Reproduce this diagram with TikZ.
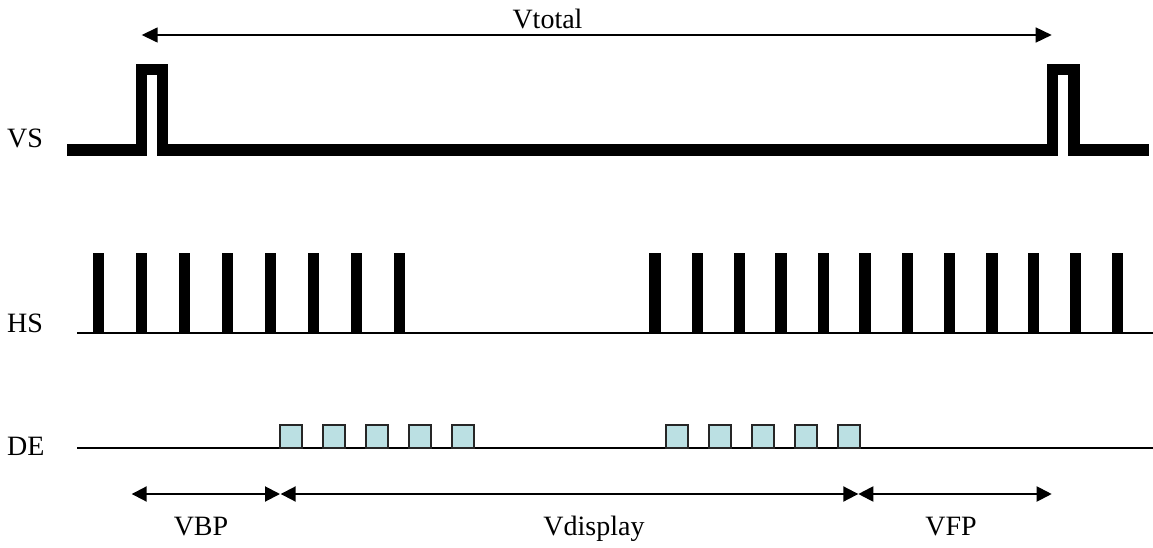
\documentclass[tikz,border=0pt]{standalone}
\usepackage{fontspec}
\setmainfont{Liberation Serif}
\usetikzlibrary{arrows.meta}
\definecolor{depulse}{HTML}{BBE0E3}
\tikzset{
  lbl/.style={anchor=base, inner sep=0pt, font=\fontsize{28}{31}\selectfont},
  vsline/.style={line width=11.5pt, line join=miter, line cap=butt},
  hsbar/.style={fill=black},
  baseline/.style={line width=2pt},
  debox/.style={fill=depulse, draw=black!85, line width=2pt},
  dimarrow/.style={line width=2pt, {Triangle[length=15pt,width=15pt]}-{Triangle[length=15pt,width=15pt]}},
  totarrow/.style={line width=1.5pt, {Triangle[length=16pt,width=15pt]}-{Triangle[length=16pt,width=15pt]}}
}
\begin{document}
\begin{tikzpicture}[x=1pt,y=-1pt]
\useasboundingbox (0,0) rectangle (1153,548);
% labels on the left
\node[lbl, anchor=base west] (vs) at (7,148) {VS};
\node[lbl, anchor=base west] (hs) at (7,332) {HS};
\node[lbl, anchor=base west] (de) at (7,455) {DE};
% VS signal
\draw[vsline] (67,150) -- (141.7,150) -- (141.7,69.5) -- (162.5,69.5) -- (162.5,150)
  -- (1052.5,150) -- (1052.5,69.5) -- (1073.8,69.5) -- (1073.8,150) -- (1149,150);
% Vtotal
\coordinate (vtl) at (141.7,35);
\coordinate (vtr) at (1051.7,35);
\draw[totarrow] (vtl) -- (vtr);
\node[lbl] (vtotal) at (547.5,29) {Vtotal};
% HS signal
\draw[baseline] (77,333.3) -- (1153,333.3);
\foreach \x [count=\i] in {98.5,141.5,184.5,227.5,270.5,313.5,356.5,399.5,
  655.2,697.3,739.3,781.2,823.3,865.2,907.5,949.5,991.7,1033.5,1075.5,1117.5}{
  \fill[hsbar] (\x-5.8,252.7) rectangle (\x+5.8,333.3);
}
% DE signal
\draw[baseline] (77,448.3) -- (1153,448.3);
\foreach \x [count=\i] in {280,323,366,409,452,666,708.5,752,794.5,837.5}{
  \draw[debox] (\x,425) rectangle (\x+22.3,448.3);
}
% dimension arrows
\coordinate (a0) at (131.7,494);
\coordinate (a1) at (280,494);
\coordinate (a1b) at (280.7,494);
\coordinate (a2) at (858.3,494);
\coordinate (a3) at (1051.7,494);
\draw[dimarrow] (a0) -- (a1);
\draw[dimarrow] (a1b) -- (a2);
\draw[dimarrow] (a2) -- (a3);
\node[lbl] (vbp) at (201,535) {VBP};
\node[lbl] (vdisp) at (594,535) {Vdisplay};
\node[lbl] (vfp) at (951,535) {VFP};
\end{tikzpicture}
\end{document}
